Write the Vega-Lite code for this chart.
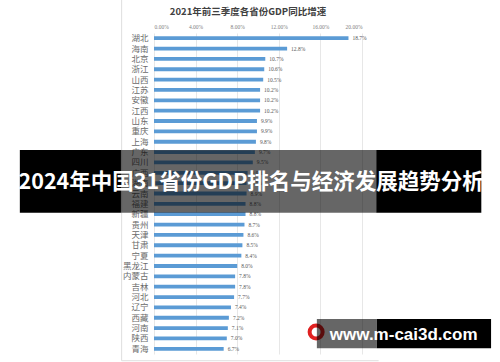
{
  "$schema": "https://vega.github.io/schema/vega-lite/v6.json",
  "width": 208,
  "height": 321,
  "autosize": {"type": "none"},
  "padding": {"left": 154, "top": 33, "right": 138, "bottom": 8},
  "background": "white",
  "config": {"view": {"stroke": null}},
  "title": {
    "text": "2021年前三季度各省份GDP同比增速",
    "frame": "group",
    "anchor": "middle",
    "dx": -10,
    "offset": 0,
    "dy": 17,
    "fontSize": 9.5,
    "font": "Noto Sans CJK SC",
    "fontWeight": "bold",
    "color": "#404040"
  },
  "data": {
    "values": [
      {"p": "湖北", "v": 0.187},
      {"p": "海南", "v": 0.128},
      {"p": "北京", "v": 0.107},
      {"p": "浙江", "v": 0.106},
      {"p": "山西", "v": 0.105},
      {"p": "江苏", "v": 0.102},
      {"p": "安徽", "v": 0.102},
      {"p": "江西", "v": 0.102},
      {"p": "山东", "v": 0.099},
      {"p": "重庆", "v": 0.099},
      {"p": "上海", "v": 0.098},
      {"p": "广东", "v": 0.097},
      {"p": "四川", "v": 0.095},
      {"p": "广西", "v": 0.090},
      {"p": "湖南", "v": 0.089},
      {"p": "云南", "v": 0.089},
      {"p": "福建", "v": 0.088},
      {"p": "新疆", "v": 0.088},
      {"p": "贵州", "v": 0.087},
      {"p": "天津", "v": 0.086},
      {"p": "甘肃", "v": 0.085},
      {"p": "宁夏", "v": 0.084},
      {"p": "黑龙江", "v": 0.080},
      {"p": "内蒙古", "v": 0.078},
      {"p": "吉林", "v": 0.078},
      {"p": "河北", "v": 0.077},
      {"p": "辽宁", "v": 0.074},
      {"p": "西藏", "v": 0.072},
      {"p": "河南", "v": 0.071},
      {"p": "陕西", "v": 0.070},
      {"p": "青海", "v": 0.067}
    ]
  },
  "layer": [
    {
      "layer": [
        {
          "mark": {"type": "bar", "size": 3.8, "color": "#5b9bd5"},
          "encoding": {
            "x": {
              "field": "v",
              "type": "quantitative",
              "scale": {"domain": [0, 0.2], "nice": false},
              "axis": {
                "orient": "top",
                "format": ".2%",
                "values": [0, 0.02, 0.04, 0.06, 0.08, 0.1, 0.12, 0.14, 0.16, 0.18, 0.2],
                "title": null,
                "domain": false,
                "ticks": false,
                "labelPadding": 4,
                "labelFontSize": 5.5,
                "labelFont": "Liberation Serif",
                "labelColor": "#7f7f7f",
                "gridColor": "#dcdcdc",
                "gridWidth": 0.7
              }
            },
            "y": {
              "field": "p",
              "type": "nominal",
              "sort": null,
              "scale": {"paddingInner": 0, "paddingOuter": 0},
              "axis": {
                "title": null,
                "domain": false,
                "ticks": false,
                "labelPadding": 6,
                "labelFontSize": 8.5,
                "labelFont": "Noto Sans CJK SC",
                "labelColor": "#6a6a6a"
              }
            }
          }
        },
        {
          "mark": {"type": "text", "align": "left", "baseline": "middle", "dx": 4, "fontSize": 5.5, "font": "Liberation Serif", "color": "#595959"},
          "encoding": {
            "x": {"field": "v", "type": "quantitative"},
            "y": {"field": "p", "type": "nominal", "sort": null},
            "text": {"field": "v", "type": "quantitative", "format": ".1%"}
          }
        }
      ]
    },
    {
      "data": {"values": [{}]},
      "layer": [
        {
          "mark": {"type": "rule", "color": "#dedede", "strokeWidth": 1},
          "encoding": {
            "x": {"datum": -0.0311, "type": "quantitative"},
            "y": {"datum": -3.2, "type": "quantitative", "scale": {"domain": [0, 31], "reverse": true, "nice": false, "zero": false}, "axis": null},
            "y2": {"datum": 31.65}
          }
        },
        {
          "mark": {"type": "rule", "color": "#dedede", "strokeWidth": 1},
          "encoding": {
            "x": {"datum": -0.0311, "type": "quantitative"},
            "x2": {"datum": 0.216},
            "y": {"datum": 31.65, "type": "quantitative", "axis": null}
          }
        },
        {
          "mark": {"type": "point", "shape": "circle", "filled": false, "stroke": "#e02020", "strokeWidth": 4, "size": 170, "opacity": 1},
          "encoding": {
            "x": {"datum": 0.1559, "type": "quantitative"},
            "y": {"datum": 28.88, "type": "quantitative", "axis": null}
          }
        },
        {
          "mark": {"type": "rect", "color": "black", "opacity": 0.6},
          "encoding": {
            "x": {"datum": -0.03176, "type": "quantitative"},
            "x2": {"datum": 0.21367},
            "y": {"datum": 11.29, "type": "quantitative", "axis": null},
            "y2": {"datum": 17.35}
          }
        },
        {
          "mark": {"type": "rect", "color": "black", "opacity": 1},
          "encoding": {
            "x": {"datum": -0.129, "type": "quantitative"},
            "x2": {"datum": -0.03176},
            "y": {"datum": 11.29, "type": "quantitative", "axis": null},
            "y2": {"datum": 17.35}
          }
        },
        {
          "mark": {"type": "rect", "color": "black", "opacity": 1},
          "encoding": {
            "x": {"datum": 0.21367, "type": "quantitative"},
            "x2": {"datum": 0.31473},
            "y": {"datum": 11.29, "type": "quantitative", "axis": null},
            "y2": {"datum": 17.35}
          }
        },
        {
          "mark": {"type": "text", "text": "2024年中国31省份GDP排名与经济发展趋势分析", "font": "Noto Sans CJK SC", "fontWeight": "bold", "fontSize": 21.5, "color": "white", "align": "center", "baseline": "middle"},
          "encoding": {
            "x": {"datum": 0.0934, "type": "quantitative"},
            "y": {"datum": 14.48, "type": "quantitative", "axis": null}
          }
        },
        {
          "mark": {"type": "rect", "color": "black", "opacity": 0.6},
          "encoding": {
            "x": {"datum": 0.1566, "type": "quantitative"},
            "x2": {"datum": 0.2143},
            "y": {"datum": 27.62, "type": "quantitative", "axis": null},
            "y2": {"datum": 30.45}
          }
        },
        {
          "mark": {"type": "rect", "color": "black", "opacity": 1},
          "encoding": {
            "x": {"datum": 0.2143, "type": "quantitative"},
            "x2": {"datum": 0.3241},
            "y": {"datum": 27.62, "type": "quantitative", "axis": null},
            "y2": {"datum": 30.45}
          }
        },
        {
          "mark": {"type": "text", "text": "www.m-cai3d.com", "font": "Liberation Sans", "fontWeight": "bold", "fontSize": 17, "color": "white", "align": "center", "baseline": "middle"},
          "encoding": {
            "x": {"datum": 0.2401, "type": "quantitative"},
            "y": {"datum": 29.2, "type": "quantitative", "axis": null}
          }
        }
      ]
    }
  ],
  "resolve": {"scale": {"y": "independent"}}
}
